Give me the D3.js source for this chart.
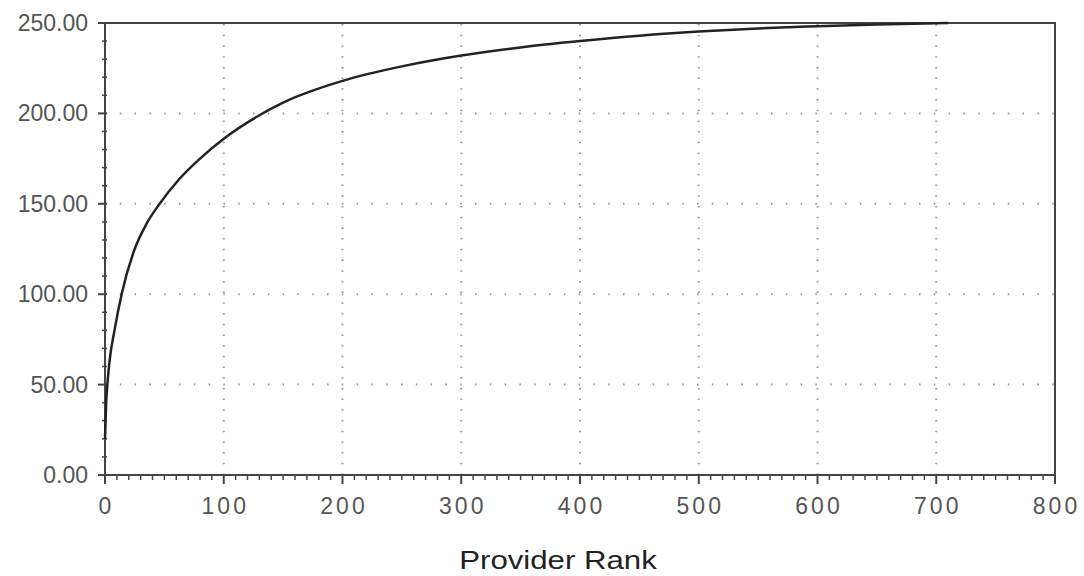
<!DOCTYPE html>
<html>
<head>
<meta charset="utf-8">
<script src="https://cdn.jsdelivr.net/npm/d3@7"></script>
<style>
  body { margin: 0; background: #fff; }
  svg { display: block; }
</style>
</head>
<body>
<svg></svg>
<script>
// cumulative curve
const RANKS  = [0, 1, 2, 4, 8, 14, 25, 35, 46, 63, 80, 100, 130, 150, 200, 250, 300, 350, 400, 450, 500, 550, 600, 650, 710];
const VALUES = [20, 40, 50, 64, 80, 100, 125, 139, 150, 164, 175, 186, 199, 206, 218, 226, 232, 236.5, 240, 243, 245.3, 247, 248.2, 249.2, 250];

const X_TICKS = [0, 100, 200, 300, 400, 500, 600, 700, 800];
const Y_TICKS = [0, 50, 100, 150, 200, 250];
const X_TITLE = "Provider Rank";

const WIDTH = 1084;
const HEIGHT = 576;
const margin = {left: 105, right: 29, top: 23, bottom: 101};

const svg = d3.select('svg')
              .attr('width', WIDTH)
              .attr('height', HEIGHT);

const x = d3.scaleLinear().domain([0, 800]).range([margin.left, WIDTH - margin.right]);
const y = d3.scaleLinear().domain([0, 250]).range([HEIGHT - margin.bottom, margin.top]);

// dotted grid
svg.append('g').selectAll('line').data(X_TICKS.filter(d => d > 0 && d < 800))
   .enter().append('line')
   .attr('x1', d => x(d)).attr('x2', d => x(d))
   .attr('y1', y(0)).attr('y2', y(250))
   .attr('stroke', '#999').attr('stroke-width', 2)
   .attr('stroke-dasharray', '1.5,9.2');

svg.append('g').selectAll('line').data(Y_TICKS.filter(d => d > 0 && d < 250))
   .enter().append('line')
   .attr('x1', x(0)).attr('x2', x(800))
   .attr('y1', d => y(d)).attr('y2', d => y(d))
   .attr('stroke', '#999').attr('stroke-width', 2)
   .attr('stroke-dasharray', '1.5,13.3');

// frame
svg.append('rect')
   .attr('x', x(0)).attr('y', y(250))
   .attr('width', x(800) - x(0)).attr('height', y(0) - y(250))
   .attr('fill', 'none').attr('stroke', '#444').attr('stroke-width', 2);

// minor ticks
svg.append('g').selectAll('line').data(d3.range(0, 801, 10).filter(d => d % 100))
   .enter().append('line')
   .attr('x1', d => x(d)).attr('x2', d => x(d))
   .attr('y1', y(0)).attr('y2', y(0) + 5)
   .attr('stroke', '#444').attr('stroke-width', 1.5);

svg.append('g').selectAll('line').data(d3.range(0, 251, 10).filter(d => d % 50))
   .enter().append('line')
   .attr('x1', x(0) - 3).attr('x2', x(0) + 2)
   .attr('y1', d => y(d)).attr('y2', d => y(d))
   .attr('stroke', '#444').attr('stroke-width', 1.5);

// major ticks
svg.append('g').selectAll('line').data(X_TICKS)
   .enter().append('line')
   .attr('x1', d => x(d)).attr('x2', d => x(d))
   .attr('y1', y(0)).attr('y2', y(0) + 9)
   .attr('stroke', '#444').attr('stroke-width', 2);

svg.append('g').selectAll('line').data(Y_TICKS)
   .enter().append('line')
   .attr('x1', x(0) - 7).attr('x2', x(0) + 2)
   .attr('y1', d => y(d)).attr('y2', d => y(d))
   .attr('stroke', '#444').attr('stroke-width', 2);

// tick labels
svg.append('g').selectAll('text').data(Y_TICKS)
   .enter().append('text')
   .attr('x', x(0) - 17)
   .attr('y', d => y(d) + 8)
   .attr('text-anchor', 'end')
   .attr('font-family', 'Liberation Sans, Arial, sans-serif')
   .attr('font-size', '23px')
   .attr('fill', '#555')
   .text(d => d.toFixed(2));

svg.append('g').selectAll('text').data(X_TICKS)
   .enter().append('text')
   .attr('x', d => x(d) + 1.5)
   .attr('y', y(0) + 39)
   .attr('text-anchor', 'middle')
   .attr('font-family', 'Liberation Sans, Arial, sans-serif')
   .attr('font-size', '23px')
   .attr('letter-spacing', '3px')
   .attr('fill', '#555')
   .text(d => d);

// axis title
svg.append('text')
   .attr('transform', `translate(558,569) scale(1.2,1)`)
   .attr('text-anchor', 'middle')
   .attr('font-family', 'Liberation Sans, Arial, sans-serif')
   .attr('font-size', '26px')
   .attr('fill', '#222')
   .text(X_TITLE);

// curve
const pts = RANKS.map((r, i) => [r, VALUES[i]]);
const line = d3.line()
               .x(d => x(d[0]))
               .y(d => y(d[1]))
               .curve(d3.curveMonotoneX);

svg.append('path')
   .datum(pts)
   .attr('d', line)
   .attr('fill', 'none')
   .attr('stroke', '#222')
   .attr('stroke-width', 2.5);
</script>
</body>
</html>
